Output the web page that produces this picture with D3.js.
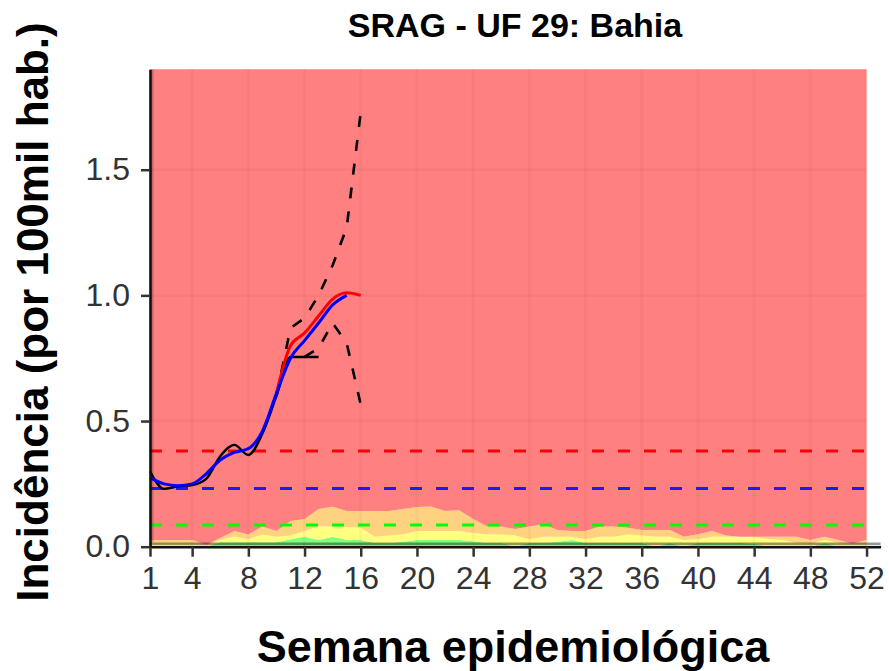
<!DOCTYPE html>
<html>
<head>
<meta charset="utf-8">
<script src="https://cdn.jsdelivr.net/npm/d3@7"></script>
<style>
  html, body { margin: 0; padding: 0; background: #fff; }
  svg { display: block; font-family: "Liberation Sans", Arial, sans-serif; }
</style>
</head>
<body>
<div id="chart"></div>
<script>
"use strict";

// Epidemiological weeks and the historical bands (cumulative upper limits)
const weeks = d3.range(1, 53);
const greenTop = [0, 0, 0, 0, 0, 0.018, 0.018, 0.018, 0.018, 0.018,
  0.03, 0.04, 0.027, 0.04, 0.027, 0.027, 0.015, 0.015, 0.02, 0.027,
  0.027, 0.027, 0.027, 0.022, 0.015, 0.015, 0, 0.015, 0.015, 0.02,
  0.027, 0.015, 0.015, 0.015, 0.015, 0.015, 0, 0.015, 0, 0.015,
  0.015, 0.015, 0.015, 0.012, 0, 0, 0, 0, 0.015, 0, 0, 0];
const yellowTop = [0.012, 0.012, 0.012, 0.012, 0.006, 0.027, 0.04, 0.03, 0.049, 0.04,
  0.045, 0.062, 0.08, 0.08, 0.078, 0.075, 0.04, 0.045, 0.049, 0.062,
  0.062, 0.062, 0.062, 0.055, 0.049, 0.049, 0.045, 0.03, 0.04, 0.04,
  0.04, 0.03, 0.04, 0.04, 0.049, 0.045, 0.04, 0.04, 0.027, 0.03,
  0.04, 0.04, 0.04, 0.04, 0.03, 0.027, 0.015, 0.012, 0.027, 0.015, 0.01, 0.01];
const orangeTop = [0.027, 0.027, 0.027, 0.027, 0.008, 0.035, 0.062, 0.049, 0.08, 0.062,
  0.102, 0.11, 0.15, 0.159, 0.142, 0.142, 0.142, 0.142, 0.15, 0.158,
  0.16, 0.142, 0.145, 0.11, 0.08, 0.08, 0.07, 0.08, 0.089, 0.066,
  0.062, 0.062, 0.08, 0.08, 0.075, 0.066, 0.066, 0.066, 0.04, 0.05,
  0.062, 0.045, 0.04, 0.04, 0.04, 0.04, 0.04, 0.027, 0.04, 0.027, 0.012, 0.027];

// Observed incidence, smoothed curve and nowcast
const obsWeeks = d3.range(1, 14);
const observed = [0.30, 0.23, 0.24, 0.245, 0.27, 0.36, 0.405, 0.365, 0.45, 0.60, 0.755, 0.755, 0.755];
const smoothWeeks = d3.range(1, 16);
const smoothed = [0.275, 0.25, 0.243, 0.25, 0.29, 0.345, 0.375, 0.39, 0.46, 0.61, 0.75, 0.82, 0.89, 0.962, 1.0];
const estWeeks = d3.range(10, 17);
const estimate = [0.61, 0.80, 0.85, 0.918, 0.985, 1.01, 1.0];
const upperWeeks = d3.range(10, 17);
const upper = [0.60, 0.87, 0.91, 1.0, 1.12, 1.27, 1.73];
const lowerWeeks = d3.range(12, 17);
const lower = [0.755, 0.79, 0.89, 0.81, 0.565];

// Threshold lines
const thresholdValues = [0.381, 0.232, 0.086];
const thresholdColors = ["#ff0000", "#1a1aff", "#00ff00"];

const xTicks = [1, 4, 8, 12, 16, 20, 24, 28, 32, 36, 40, 44, 48, 52];
const yTicks = [0, 0.5, 1.0, 1.5];

const width = 889, height = 671;
const svg = d3.select("#chart").append("svg")
  .attr("width", width)
  .attr("height", height);

const x = d3.scaleLinear().domain([1, 53]).range([150, 880.6]);
const y = d3.scaleLinear().domain([0, 1.9]).range([546.7, 69.2]);

// Background bands
const bands = [
  { lo: greenTop.map(() => 0), hi: greenTop, color: "#80ff80" },
  { lo: greenTop, hi: yellowTop, color: "#ffff80" },
  { lo: yellowTop, hi: orangeTop, color: "#ffd280" },
  { lo: orangeTop, hi: orangeTop.map(() => 1.9), color: "#ff8080" }
];
bands.forEach(b => {
  const area = d3.area()
    .x((d, i) => x(weeks[i]))
    .y0((d, i) => y(b.lo[i]))
    .y1((d, i) => y(b.hi[i]));
  svg.append("path").datum(weeks).attr("d", area).attr("fill", b.color);
});

// Grid
const grid = svg.append("g").attr("stroke", "rgba(120,0,0,0.04)").attr("stroke-width", 3);
grid.selectAll("line.v").data(xTicks).join("line")
  .attr("x1", d => x(d)).attr("x2", d => x(d))
  .attr("y1", y(1.9)).attr("y2", y(0));
grid.selectAll("line.h").data(yTicks.slice(1)).join("line")
  .attr("x1", x(1)).attr("x2", x(52))
  .attr("y1", d => y(d)).attr("y2", d => y(d));

// Thresholds
svg.selectAll("line.thr").data(thresholdValues).join("line")
  .attr("class", "thr")
  .attr("x1", x(1)).attr("x2", x(52))
  .attr("y1", d => y(d)).attr("y2", d => y(d))
  .attr("stroke", (d, i) => thresholdColors[i])
  .attr("stroke-width", 3)
  .attr("stroke-dasharray", "12,14");

function drawLine(xs, vals, color, w, dash, curve) {
  const line = d3.line()
    .x((d, i) => x(xs[i]))
    .y(d => y(d))
    .curve(curve);
  svg.append("path").datum(vals)
    .attr("d", line)
    .attr("fill", "none")
    .attr("stroke", color)
    .attr("stroke-width", w)
    .attr("stroke-dasharray", dash);
}

drawLine(obsWeeks, observed, "#000", 2.4, null, d3.curveMonotoneX);
drawLine(upperWeeks, upper, "#000", 2.6, "11,13", d3.curveLinear);
drawLine(lowerWeeks, lower, "#000", 2.6, "11,13", d3.curveLinear);
drawLine(estWeeks, estimate, "#ff0000", 3, null, d3.curveMonotoneX);
drawLine(smoothWeeks, smoothed, "#0000ff", 3, null, d3.curveMonotoneX);

// Axes
const xAxis = svg.append("g")
  .attr("transform", `translate(0,${y(0)})`)
  .call(d3.axisBottom(x).tickValues(xTicks).tickSize(10).tickSizeOuter(0).tickPadding(10));
const yAxis = svg.append("g")
  .attr("transform", `translate(${x(1)},0)`)
  .call(d3.axisLeft(y).tickValues(yTicks).tickFormat(d3.format(".1f")).tickSize(9).tickSizeOuter(0).tickPadding(11));

[xAxis, yAxis].forEach(a => {
  a.select(".domain").attr("stroke", "#111").attr("stroke-width", 2.6);
  a.selectAll(".tick line").attr("stroke", "#333").attr("stroke-width", 2.5);
  a.selectAll(".tick text").attr("fill", "#333").style("font-size", "32px")
    .style("font-family", "'Liberation Sans', Arial, sans-serif");
});

// darker strip along the axes
svg.append("line")
  .attr("x1", x(1)).attr("x2", x(53))
  .attr("y1", y(0) - 2.8).attr("y2", y(0) - 2.8)
  .attr("stroke", "rgba(0,0,0,0.4)").attr("stroke-width", 2.8);
svg.append("line")
  .attr("x1", x(1) + 2.6).attr("x2", x(1) + 2.6)
  .attr("y1", y(1.9)).attr("y2", y(0) - 4.2)
  .attr("stroke", "rgba(0,0,0,0.2)").attr("stroke-width", 2);

// Titles
svg.append("text")
  .attr("x", 515).attr("y", 37)
  .attr("text-anchor", "middle")
  .style("font-size", "34px").style("font-weight", "bold")
  .text("SRAG - UF 29: Bahia");

svg.append("text")
  .attr("x", 513).attr("y", 662)
  .attr("text-anchor", "middle")
  .style("font-size", "45px").style("font-weight", "bold")
  .text("Semana epidemiológica");

svg.append("text")
  .attr("transform", "translate(48,312) rotate(-90)")
  .attr("text-anchor", "middle")
  .style("font-size", "44px").style("font-weight", "bold")
  .text("Incidência (por 100mil hab.)");
</script>
</body>
</html>
